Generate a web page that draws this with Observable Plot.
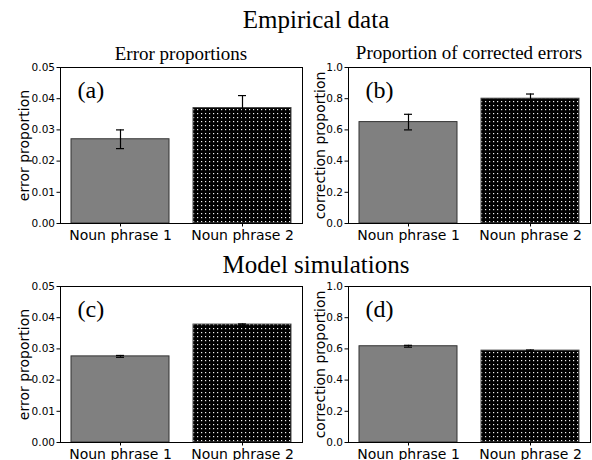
<!DOCTYPE html>
<html><head><meta charset="utf-8">
<script src="https://cdn.jsdelivr.net/npm/d3@7"></script>
<script src="https://cdn.jsdelivr.net/npm/@observablehq/plot@0.6"></script>
<style>
html,body{margin:0;padding:0;background:#fff;}
#fig{position:relative;width:592px;height:460px;overflow:hidden;background:#fff;}
#fig > svg{position:absolute;}
</style></head><body><div id="fig"></div>
<script>
// ---- data ----
const categories = ["Noun phrase 1", "Noun phrase 2"];
const empiricalError = [0.027, 0.037];
const empiricalErrorSE = [0.003, 0.004];
const empiricalCorrection = [0.65, 0.80];
const empiricalCorrectionSE = [0.05, 0.03];
const modelError = [0.0276, 0.0378];
const modelErrorSE = [0.0003, 0.0002];
const modelCorrection = [0.617, 0.589];
const modelCorrectionSE = [0.006, 0.004];
const errorTicks = [0, 0.01, 0.02, 0.03, 0.04, 0.05];
const correctionTicks = [0, 0.2, 0.4, 0.6, 0.8, 1.0];
const headings = ["Empirical data", "Model simulations"];
const panelTitles = ["Error proportions", "Proportion of corrected errors"];
const panelLetters = ["(a)", "(b)", "(c)", "(d)"];
const yLabels = ["error proportion", "correction proportion"];

const SERIF = "'Liberation Serif', 'Times New Roman', serif";
const SANS = "'DejaVu Sans', sans-serif";

function panel({values, se, domain, ticks, fmt, label, letter, id, labelDx}) {
  const data = categories.map((c, i) => ({cat: c, v: values[i], lo: values[i] - se[i], hi: values[i] + se[i], i}));
  const defs = () => {
    const d = d3.create("svg:defs");
    const p = d.append("pattern").attr("id", id).attr("patternUnits", "userSpaceOnUse")
      .attr("width", 4).attr("height", 4);
    p.append("rect").attr("width", 4).attr("height", 4).attr("fill", "#000");
    p.append("rect").attr("x", 1).attr("y", 1).attr("width", 1.2).attr("height", 1.2).attr("fill", "#f0f0f0");
    return d.node();
  };
  return Plot.plot({
    width: 304, height: 185,
    marginLeft: 60, marginRight: 2, marginTop: 7, marginBottom: 22,
    style: {fontFamily: SANS, background: "transparent", overflow: "visible", color: "black"},
    x: {domain: categories, paddingInner: 0.2, paddingOuter: 0.09},
    y: {domain},
    marks: [
      defs,
      Plot.barY(data, {filter: d => d.i === 0, x: "cat", y: "v", fill: "#808080", stroke: "#333", strokeWidth: 1}),
      Plot.barY(data, {filter: d => d.i === 1, x: "cat", y: "v", fill: `url(#${id})`, stroke: "#444", strokeWidth: 1}),
      Plot.ruleX(data, {x: "cat", y1: "lo", y2: "hi", stroke: "black", strokeWidth: 1.2}),
      Plot.tickY(data, {x: "cat", y: "hi", insetLeft: 45, insetRight: 45, stroke: "black", strokeWidth: 1.2}),
      Plot.tickY(data, {x: "cat", y: "lo", insetLeft: 45, insetRight: 45, stroke: "black", strokeWidth: 1.2}),
      Plot.frame({stroke: "black", strokeWidth: 1}),
      Plot.axisY({ticks, tickFormat: fmt, tickSize: 3.5, tickPadding: 2, fontSize: 10.5, label: null}),
      Plot.axisX({tickSize: 3.5, tickPadding: 3, fontSize: 14, label: null}),
      Plot.text([label], {frameAnchor: "left", rotate: -90, dx: labelDx, fontSize: 14,
        textAnchor: "middle", lineAnchor: "middle", text: d => d}),
      Plot.text([letter], {frameAnchor: "top-left", dx: 17, dy: 13, fontSize: 24, fontFamily: SERIF,
        textAnchor: "start", lineAnchor: "top", text: d => d})
    ]
  });
}

const fig = document.getElementById("fig");
function place(svg, left, top) {
  svg.style.left = left + "px";
  svg.style.top = top + "px";
  fig.appendChild(svg);
}

place(panel({values: empiricalError, se: empiricalErrorSE, domain: [0, 0.05], ticks: errorTicks, fmt: ".2f",
  label: yLabels[0], letter: panelLetters[0], id: "dotsA", labelDx: -36}), 0, 60);
place(panel({values: empiricalCorrection, se: empiricalCorrectionSE, domain: [0, 1], ticks: correctionTicks, fmt: ".1f",
  label: yLabels[1], letter: panelLetters[1], id: "dotsB", labelDx: -28}), 288, 60);
place(panel({values: modelError, se: modelErrorSE, domain: [0, 0.05], ticks: errorTicks, fmt: ".2f",
  label: yLabels[0], letter: panelLetters[2], id: "dotsC", labelDx: -36}), 0, 278.5);
place(panel({values: modelCorrection, se: modelCorrectionSE, domain: [0, 1], ticks: correctionTicks, fmt: ".1f",
  label: yLabels[1], letter: panelLetters[3], id: "dotsD", labelDx: -28}), 288, 278.5);

// titles overlay
const ov = d3.create("svg").attr("width", 592).attr("height", 460)
  .style("position", "absolute").style("left", "0px").style("top", "0px")
  .attr("font-family", SERIF).attr("fill", "black");
ov.append("text").attr("x", 316).attr("y", 28).attr("text-anchor", "middle").attr("font-size", 25).text(headings[0]);
ov.append("text").attr("x", 316).attr("y", 273).attr("text-anchor", "middle").attr("font-size", 25).text(headings[1]);
ov.append("text").attr("x", 181).attr("y", 60).attr("text-anchor", "middle").attr("font-size", 19).text(panelTitles[0]);
ov.append("text").attr("x", 469).attr("y", 59).attr("text-anchor", "middle").attr("font-size", 19).text(panelTitles[1]);
fig.appendChild(ov.node());
</script>
</body></html>
